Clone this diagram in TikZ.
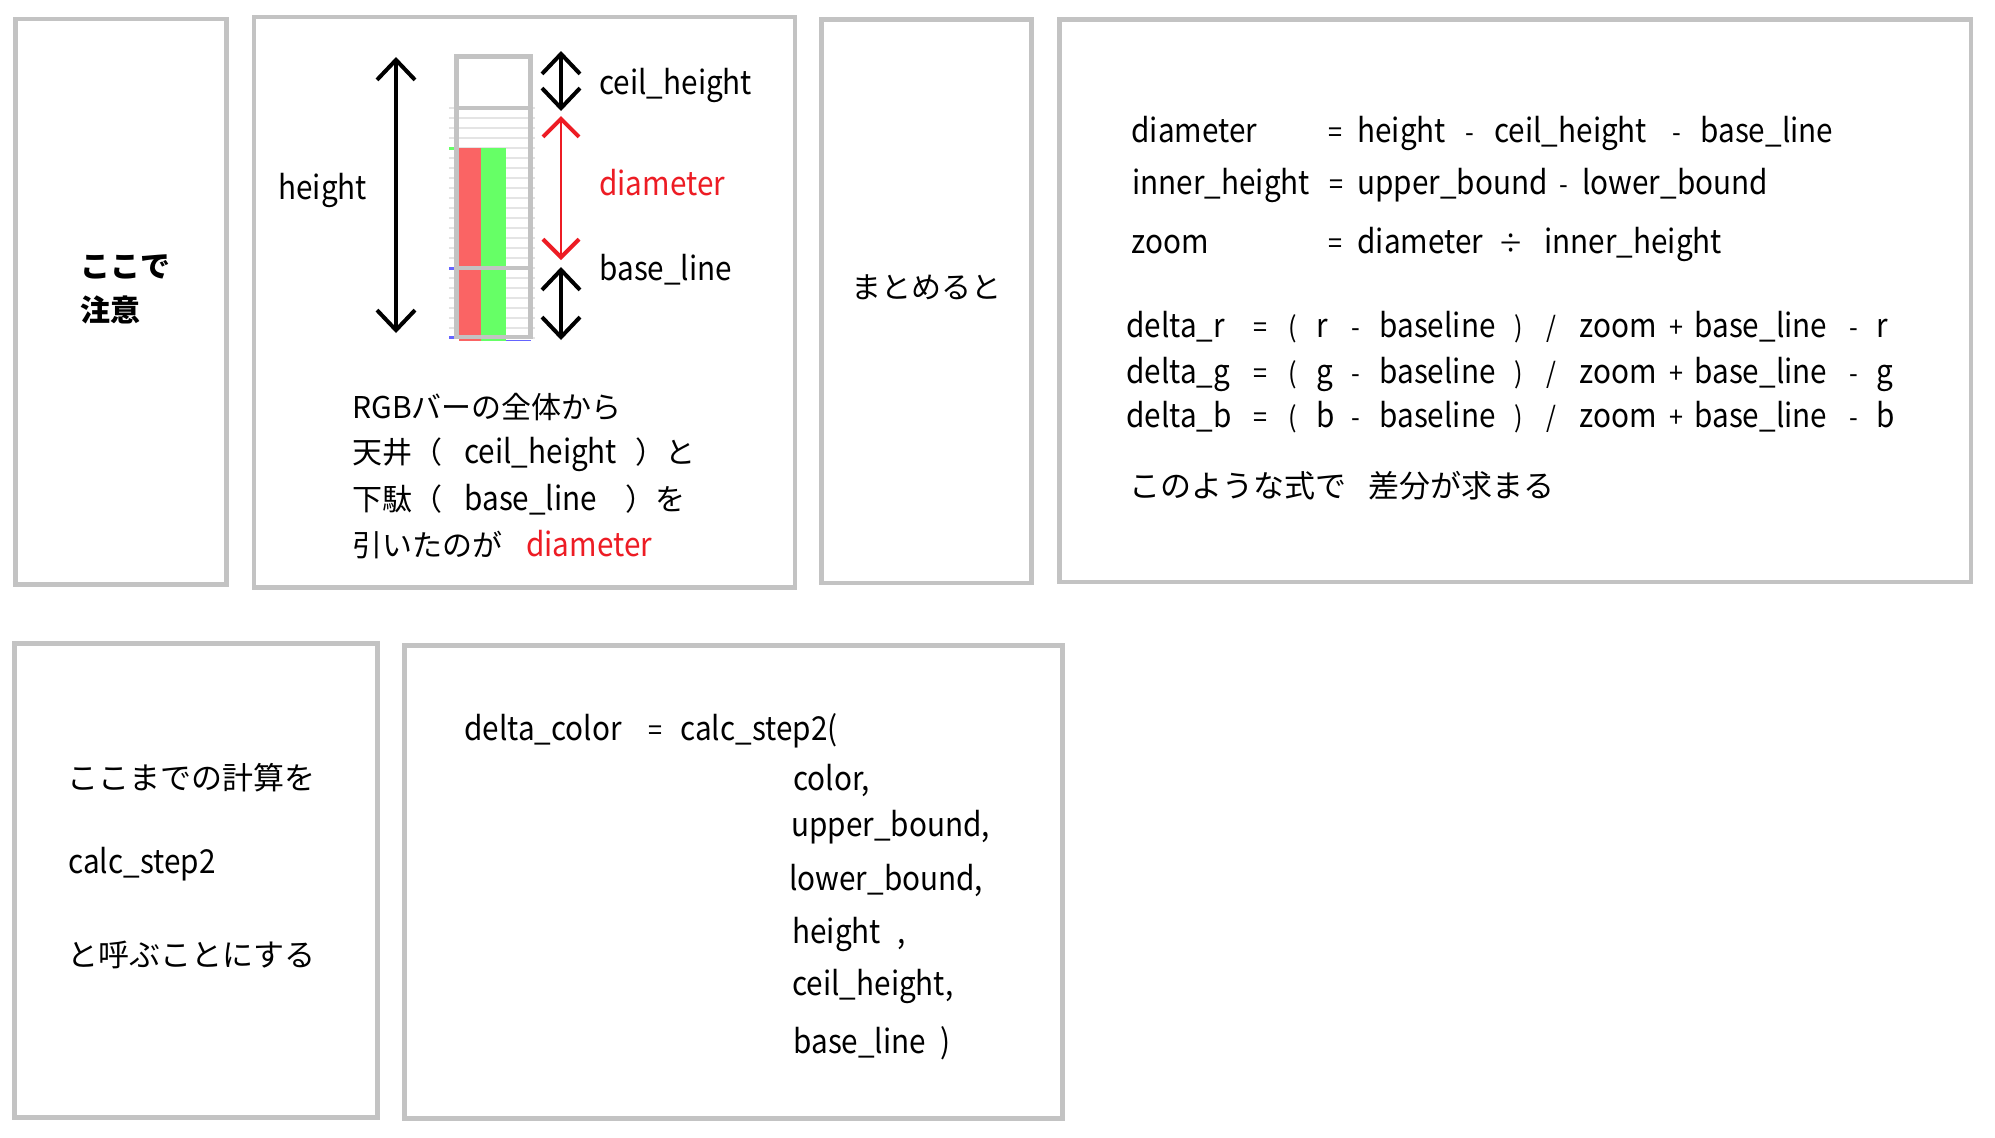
\documentclass[tikz,border=0pt]{standalone}
\usepackage{fontspec}
\setmainfont{Noto Sans CJK JP}
\newfontfamily\latfont{Noto Sans CJK JP}[FakeStretch=0.9]
\usetikzlibrary{arrows.meta}

\definecolor{boxgray}{RGB}{195,195,195}
\definecolor{gridgray}{RGB}{228,228,228}
\definecolor{barred}{RGB}{250,100,100}
\definecolor{bargreen}{RGB}{102,255,102}
\definecolor{tickblue}{RGB}{100,100,255}
\definecolor{markred}{RGB}{237,28,36}

\newcommand\jp{\fontsize{15}{18}\selectfont}
\newcommand\jpl{\fontsize{15.5}{18}\selectfont}
\newcommand\lat{\latfont\fontsize{16.5}{20}\selectfont}

\tikzset{
  panel/.style={draw=boxgray,line width=2.3pt},
  word/.style={anchor=base west,inner sep=0pt,font=\lat},
  op/.style={anchor=base,inner sep=0pt,font=\latfont\fontsize{14}{17}\selectfont},
  jptext/.style={anchor=base west,inner sep=0pt,font=\jp},
  dimarrow/.style={line width=2pt,{Straight Barb[length=10pt,width=19pt]}-{Straight Barb[length=10pt,width=19pt]}},
  reddim/.style={line width=1.2pt,markred,{Straight Barb[length=9pt,width=18pt,line width=2pt]}-{Straight Barb[length=9pt,width=18pt,line width=2pt]}},
}

\begin{document}
\begin{tikzpicture}[x=0.5pt,y=-0.5pt]
    \useasboundingbox (0,0) rectangle (1995,1137);
    \fill[white] (0,0) rectangle (1995,1137);

    % panels
    \draw[panel] (15.2,19) rectangle (226.5,584.5);
    \draw[panel] (254,17) rectangle (795,587.5);
    \draw[panel] (821.5,19.5) rectangle (1031.5,583);
    \draw[panel] (1059.5,19.5) rectangle (1971,582);
    \draw[panel] (14.5,643.5) rectangle (377.5,1117.5);
    \draw[panel] (404.5,645.5) rectangle (1062.5,1118.5);

    % first panel
    \node[jptext,font=\fontsize{15}{18}\selectfont\bfseries] (note1) at (80,277) {ここで};
    \node[jptext,font=\fontsize{15}{18}\selectfont\bfseries] (note2) at (80,321) {注意};

    % rgb bar
    \foreach \g in {108,118,...,338}
        \draw[gridgray,line width=0.6pt] (449,\g) -- (535,\g);
    \fill[barred] (459,148) rectangle (481,341);
    \fill[bargreen] (481,148) rectangle (506,341);
    \fill[bargreen] (449,147) rectangle (459,149.5);
    \fill[tickblue] (449,267) rectangle (456,270);
    \fill[tickblue] (449,336) rectangle (456,339);
    \fill[tickblue] (506,339.5) rectangle (531,341);
    \draw[boxgray,line width=2.35pt] (456.7,56.5) rectangle (530.3,337);
    \draw[boxgray,line width=2.35pt] (456.7,108) -- (530.3,108);
    \draw[boxgray,line width=2.35pt] (456.7,268) -- (530.3,268);

    % measures
    \draw[dimarrow] (396,57) -- (396,333);
    \draw[dimarrow] (561,51) -- (561,111);
    \draw[reddim] (561,116) -- (561,260);
    \draw[dimarrow] (561,267) -- (561,340);
    \node[word] (hlabel) at (278,199) {height};
    \node[word] (ceillabel) at (599,94) {ceil\_height};
    \node[word,text=markred] (diamlabel) at (599,195) {diameter};
    \node[word] (baselabel) at (599,280) {base\_line};

    \node[jptext] (expl1) at (352,418) {RGBバーの全体から};
    \node[jptext] (expl2) at (352,463) {天井（\hspace{11pt}{\lat ceil\_height}\hspace{9pt}）と};
    \node[jptext] (expl3) at (352,510) {下駄（\hspace{11pt}{\lat base\_line}\hspace{14pt}）を};
    \node[jptext] (expl4) at (352,556) {引いたのが\hspace{12pt}{\lat\color{markred}diameter}};

    % third panel
    \node[jptext] (sum) at (851,298) {まとめると};

    % formulas
    \foreach \x/\t in {1131/diameter,1357/height,1494/ceil\_height,1700/base\_line}
        \node[word] (fa-\x) at (\x,142) {\t};
    \foreach \x/\t in {1335/=,1470/-,1677/-}
        \node[op] (fao-\x) at (\x,142) {\t};
    \foreach \x/\t in {1132/inner\_height,1357/upper\_bound,1582/lower\_bound}
        \node[word] (fb-\x) at (\x,194) {\t};
    \foreach \x/\t in {1336/=,1564/-}
        \node[op] (fbo-\x) at (\x,194) {\t};
    \foreach \x/\t in {1131/zoom,1357/diameter,1544/inner\_height}
        \node[word] (fc-\x) at (\x,253) {\t};
    \foreach \x/\t in {1335/=,1511/÷}
        \node[op] (fco-\x) at (\x,253) {\t};

    \foreach \c/\yb in {r/337,g/383,b/427}{
        \foreach \x/\t in {1126/delta\_\c,1316/\c,1379/baseline,1579/zoom,1694/base\_line,1876/\c}
            \node[word] (d\c-\x) at (\x,\yb) {\t};
        \foreach \x/\t in {1260/=,1293/{(},1356/-,1519/{)},1551/{/},1676/+,1854/-}
            \node[op] (d\c o-\x) at (\x,\yb) {\t};
    }
    \node[jptext,font=\jpl] (result) at (1129,497) {このような式で\hspace{11pt}差分が求まる};

    % naming
    \node[jptext,font=\jpl] (call1) at (67,789) {ここまでの計算を};
    \node[word] (call2) at (68,873) {calc\_step2};
    \node[jptext,font=\jpl] (call3) at (67,966) {と呼ぶことにする};

    % call
    \node[word] (cl-name) at (464,740) {delta\_color};
    \node[op] (cl-eq) at (655,740) {=};
    \node[word] (cl-fn) at (680,740) {calc\_step2(};
    \node[word] (arg1) at (793,790) {color,};
    \node[word] (arg2) at (791,836) {upper\_bound,};
    \node[word] (arg3) at (789,890) {lower\_bound,};
    \node[word] (arg4) at (792,943) {height\hspace{8pt},};
    \node[word] (arg5) at (792,995) {ceil\_height,};
    \node[word] (arg6) at (793,1053) {base\_line\hspace{7pt})};
\end{tikzpicture}
\end{document}
